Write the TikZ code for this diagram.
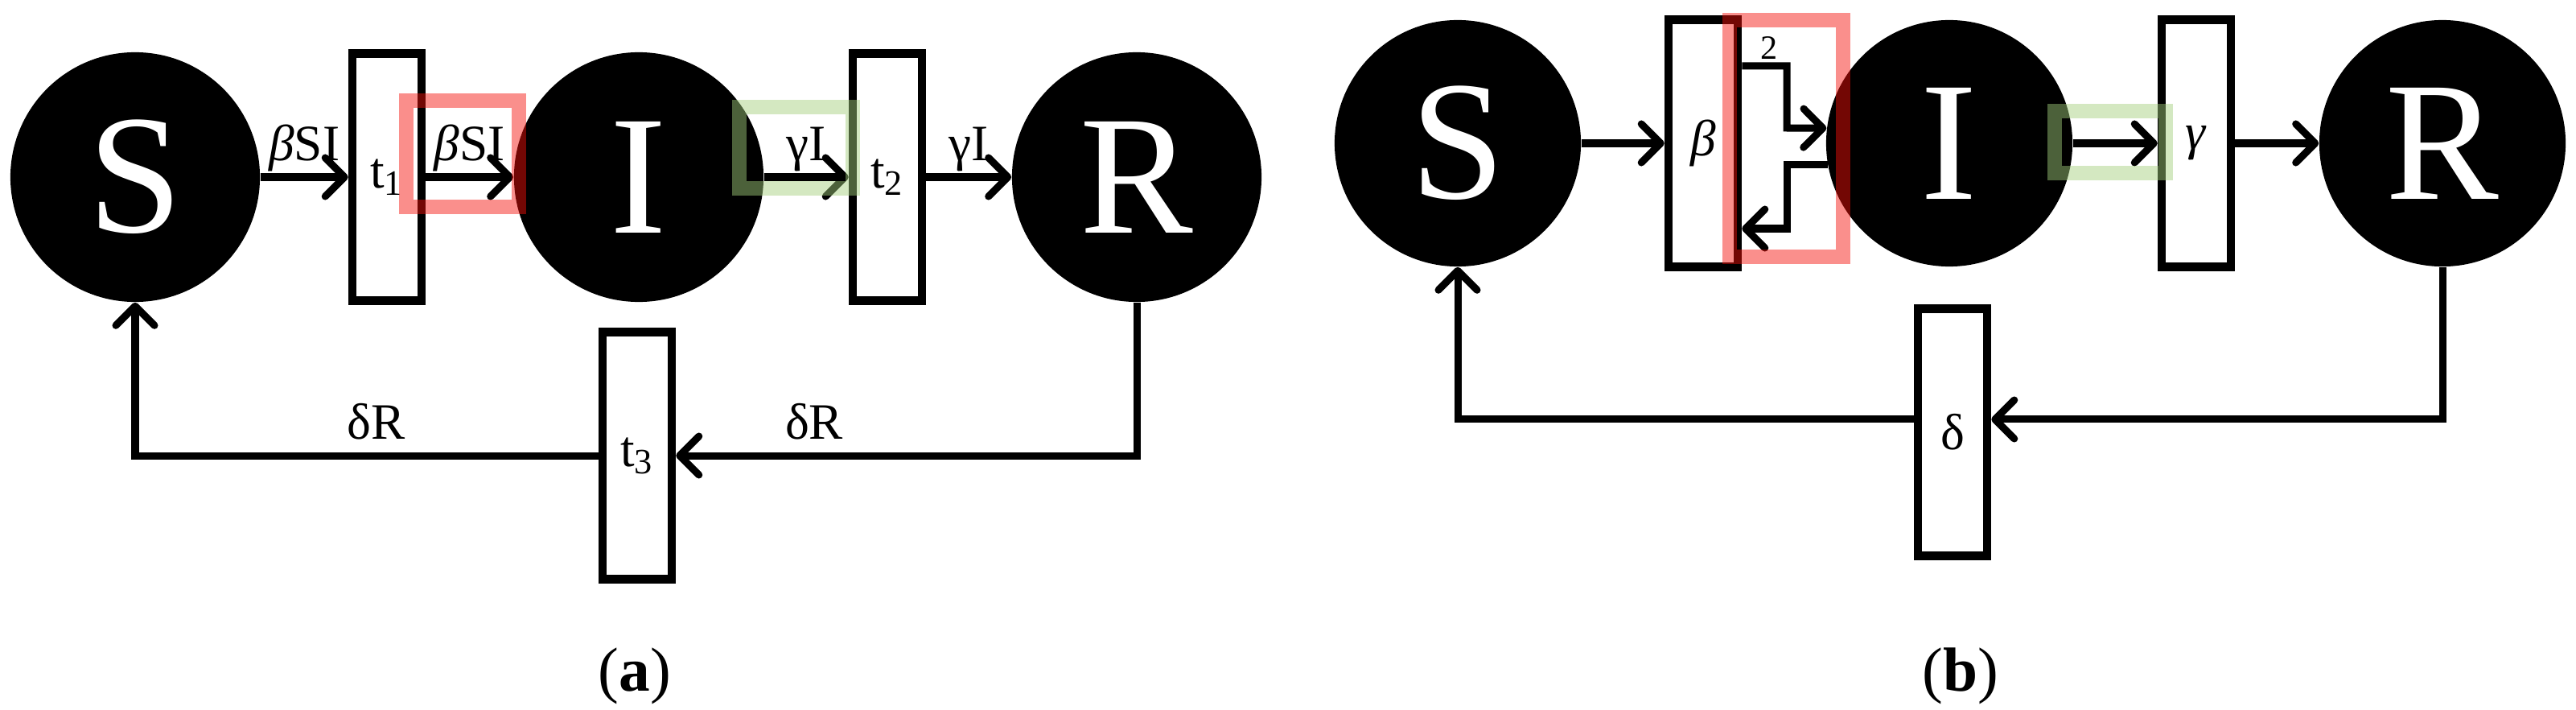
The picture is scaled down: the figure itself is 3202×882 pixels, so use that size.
\documentclass[tikz,border=0pt]{standalone}
\usepackage{fontspec}
\setmainfont{Liberation Serif}
\usetikzlibrary{arrows.meta, calc, positioning}
\definecolor{ink}{HTML}{000000}
\definecolor{hlred}{HTML}{F5100A}
\definecolor{hlgreen}{HTML}{A3CF7C}
\tikzset{
  >={Straight Barb[length=0.24cm, width=0.48cm, round]},
  compart/.style={circle, fill=ink, text=white, minimum size=3.1cm, inner sep=0pt,
                  font=\fontsize{60}{60}\selectfont},
  transition/.style={draw=ink, fill=white, line width=0.105cm, minimum width=0.86cm,
                     minimum height=3.07cm, inner sep=0pt, font=\fontsize{18}{18}\selectfont},
  flow/.style={->, draw=ink, line width=0.09cm},
  lbl/.style={above, inner sep=2pt, text depth=0.25em, font=\fontsize{18}{18}\selectfont},
  hilite/.style={draw=#1, draw opacity=0.47, line width=0.18cm},
  caption/.style={font=\fontsize{22}{22}\selectfont},
}

\begin{document}
\begin{tikzpicture}[x=0.01cm, y=-0.01cm]
  \useasboundingbox (0,0) rectangle (3202,882);
  % (a) places and transitions
  \node[compart] (S1) at (168,220) {S};
  \node[transition] (t1) at (481,220) {t\textsubscript{1}};
  \node[compart] (I1) at (794,220) {I};
  \node[transition] (t2) at (1103,220) {t\textsubscript{2}};
  \node[compart] (R1) at (1413,220) {R};
  \node[transition] (t3) at (792,566) {t\textsubscript{3}};
  % (a) arcs
  \draw[flow] (S1) -- node[lbl] {\textit{β}SI} (t1);
  \draw[flow] (t1) -- node[lbl] {\textit{β}SI} (I1);
  \draw[flow] (I1) -- node[lbl] {γI} (t2);
  \draw[flow] (t2) -- node[lbl] {γI} (R1);
  \draw[flow] (R1.south) |- node[lbl, pos=0.85] {δR} (t3.east);
  \draw[flow] (t3.west) -| node[lbl, pos=0.24] {δR} (S1.south);
  % (b) places and transitions
  \node[compart, minimum size=3.06cm] (S2) at (1812,178) {S};
  \node[transition] (beta) at (2117,178) {\textit{β}};
  \node[compart, minimum size=3.06cm] (I2) at (2423,178) {I};
  \node[transition] (gamma) at (2730,178) {\textit{γ}};
  \node[compart, minimum size=3.06cm] (R2) at (3036,178) {R};
  \node[transition] (delta) at (2427,537) {δ};
  % (b) arcs
  \draw[flow] (S2) -- (beta);
  \draw[flow] (beta.east |- 0,82) -| node[pos=0.3, above, inner sep=1pt,
      font=\fontsize{12}{12}\selectfont] {2} (2221,159) -- (I2.173);
  \draw[flow] (I2.190) -| (2221,284) -- (beta.east |- 0,284);
  \draw[flow] (I2) -- (gamma);
  \draw[flow] (gamma) -- (R2);
  \draw[flow] (R2.south) |- ([yshift=0.16cm]delta.east);
  \draw[flow] ([yshift=0.16cm]delta.west) -| (S2.south);
  % highlights
  \draw[hilite=hlred] (505,125) rectangle (645,257);
  \draw[hilite=hlgreen] (919,133) rectangle (1060,234);
  \draw[hilite=hlred] (2150,25) rectangle (2291,319);
  \draw[hilite=hlgreen] (2554,138) rectangle (2692,215);
  % captions
  \node[caption] (capa) at (789,840) {(\textbf{a})};
  \node[caption] (capb) at (2437,840) {(\textbf{b})};
\end{tikzpicture}
\end{document}
